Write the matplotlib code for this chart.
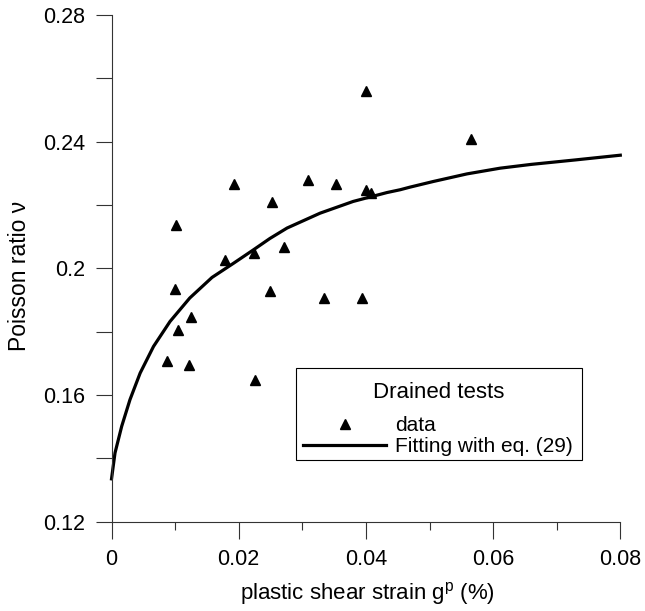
import matplotlib
matplotlib.use("Agg")
import matplotlib.pyplot as plt
import matplotlib.patches as mpatches
from matplotlib.ticker import MultipleLocator, FuncFormatter

plt.rcParams['font.family'] = ['Liberation Sans', 'DejaVu Sans']
plt.rcParams['mathtext.fontset'] = 'custom'
plt.rcParams['mathtext.rm'] = 'Liberation Sans'
plt.rcParams['mathtext.it'] = 'Liberation Sans'

# drained tests, measured points
strain = [0.0400, 0.0566, 0.0192, 0.0309, 0.0353, 0.0400, 0.0408, 0.0252,
          0.0101, 0.0271, 0.0224, 0.0179, 0.0100, 0.0249, 0.0334, 0.0394,
          0.0125, 0.0105, 0.0087, 0.0122, 0.0226]
poisson = [0.2561, 0.2409, 0.2267, 0.2278, 0.2267, 0.2248, 0.2237, 0.2208,
           0.2136, 0.2067, 0.2047, 0.2027, 0.1936, 0.1927, 0.1906, 0.1906,
           0.1847, 0.1806, 0.1706, 0.1695, 0.1646]

# fitted curve, eq. (29)
fit_strain = [0.0, 0.00055, 0.0016, 0.0029, 0.0045, 0.0066, 0.0092, 0.0123,
              0.0158, 0.0192, 0.0223, 0.0249, 0.0276, 0.0328, 0.0380, 0.0433,
              0.0454, 0.0469, 0.0506, 0.0559, 0.0611, 0.0660, 0.0729, 0.0800]
fit_poisson = [0.1335, 0.1417, 0.1501, 0.1585, 0.1669, 0.1753, 0.1832, 0.1906,
               0.1971, 0.2016, 0.2058, 0.2094, 0.2127, 0.2174, 0.2211, 0.2239,
               0.2248, 0.2256, 0.2274, 0.2298, 0.2316, 0.2328, 0.2342, 0.2357]

fig = plt.figure(figsize=(6.45, 6.11), dpi=100)
ax = fig.add_axes([0.1729, 0.1463, 0.7888, 0.8293])

pts, = ax.plot(strain, poisson, linestyle='none', marker='^', ms=7.5,
               color='black', label='data', clip_on=False)
fit, = ax.plot(fit_strain, fit_poisson, color='black', lw=2.3,
               solid_joinstyle='round', label='Fitting with eq. (29)',
               clip_on=False)

ax.set_xlim(0, 0.08)
ax.set_ylim(0.12, 0.28)
ax.xaxis.set_major_locator(MultipleLocator(0.02))
ax.xaxis.set_minor_locator(MultipleLocator(0.01))
ax.yaxis.set_major_locator(MultipleLocator(0.04))
ax.yaxis.set_minor_locator(MultipleLocator(0.02))
fmt = FuncFormatter(lambda v, p: '%g' % round(v, 4))
ax.xaxis.set_major_formatter(fmt)
ax.yaxis.set_major_formatter(fmt)

for s in ['top', 'right']:
    ax.spines[s].set_visible(False)
for s in ['left', 'bottom']:
    ax.spines[s].set_color('#333333')
    ax.spines[s].set_linewidth(0.8)

ax.tick_params(axis='both', which='both', direction='out', color='#333333',
               width=0.8, labelsize=15.5, pad=7.5)
ax.tick_params(axis='x', which='major', length=12)
ax.tick_params(axis='x', which='minor', length=5.5)
ax.tick_params(axis='y', which='major', length=11.5)
ax.tick_params(axis='y', which='minor', length=11.5)

ax.set_xlabel(r'plastic shear strain g$^{\mathrm{p}}$ (%)', fontsize=16, va='top')
ax.xaxis.set_label_coords(0.503, -0.115)
ax.set_ylabel('Poisson ratio ν', fontsize=16.5)
ax.yaxis.set_label_coords(-0.158, 0.485)

# legend: entries, frame and title placed separately
leg = ax.legend(handles=[pts, fit], loc='upper left',
                bbox_to_anchor=(303 / 645, 1 - 416 / 611),
                bbox_transform=fig.transFigure, borderaxespad=0, borderpad=0,
                fontsize=15, numpoints=1, handlelength=4.0,
                handletextpad=0.4, labelspacing=0.1, frameon=False)
fig.add_artist(mpatches.Rectangle((296 / 645, 1 - 460 / 611), 286 / 645, 92 / 611,
                                  transform=fig.transFigure, fill=False,
                                  ec='black', lw=0.8))
fig.text(439 / 645, 1 - 392 / 611, 'Drained tests', fontsize=16,
         ha='center', va='center')

fig.savefig('out.png', dpi=100)
